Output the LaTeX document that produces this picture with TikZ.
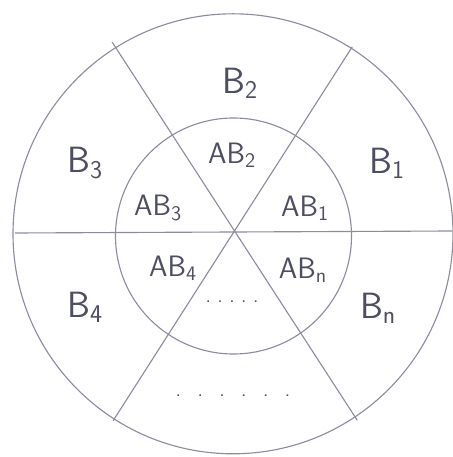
\documentclass[tikz,border=0pt]{standalone}
\usepackage{xcolor}
\usepackage{tikz}
\usetikzlibrary{calc}
\definecolor{pencil}{RGB}{140,140,160}
\definecolor{pencilink}{RGB}{78,78,98}

\begin{document}
\begin{tikzpicture}[
    ring/.style={draw=pencil, line width=0.8pt},
    spoke/.style={draw=pencil, line width=0.8pt},
    outer/.style={text=pencilink, font=\sffamily\fontsize{26}{28}\selectfont},
    inner/.style={text=pencilink, font=\sffamily\fontsize{21}{24}\selectfont},
    dots/.style={text=pencilink, font=\sffamily\bfseries\small, anchor=base}
]
\useasboundingbox (0,0) rectangle (11.325,11.425);

% Centre and spoke ends
\coordinate (c) at (5.825,5.575);
\coordinate (w)  at (0.375,5.6);
\coordinate (e)  at (11.3,5.65);
\coordinate (ne) at ($(c)+(57.5:5.55)$);
\coordinate (sw) at ($(c)+(237.3:5.55)$);
\coordinate (nw) at ($(c)+(122.2:5.67)$);
\coordinate (se) at ($(c)+(303.7:5.6)$);

% Rings
\draw[ring] (5.825,5.58) circle (5.5);
\draw[ring] (5.8375,5.525) circle (2.95);

% Spokes
\draw[spoke] (w) -- (e);
\draw[spoke] (ne) -- (sw);
\draw[spoke] (nw) -- (se);

% Outer sectors
\node[outer] (b2) at (6.0,9.35)   {B\textsubscript{2}};
\node[outer] (b3) at (2.125,7.35) {B\textsubscript{3}};
\node[outer] (b1) at (9.675,7.35) {B\textsubscript{1}};
\node[outer] (b4) at (2.125,3.75) {B\textsubscript{4}};
\node[outer] (bn) at (9.45,3.725) {B\textsubscript{n}};
\node[dots]  (od) at (5.825,1.5)  {.\hspace{0.45cm}.\hspace{0.45cm}.\hspace{0.45cm}.\hspace{0.45cm}.\hspace{0.45cm}.};

% Inner sectors
\node[inner] (ab2) at (5.8,7.55)    {AB\textsubscript{2}};
\node[inner] (ab3) at (3.95,6.225)  {AB\textsubscript{3}};
\node[inner] (ab1) at (7.625,6.225) {AB\textsubscript{1}};
\node[inner] (ab4) at (4.325,4.725) {AB\textsubscript{4}};
\node[inner] (abn) at (7.575,4.675) {AB\textsubscript{n}};
\node[dots]  (id) at (5.8,3.85) {.\hspace{0.2cm}.\hspace{0.2cm}.\hspace{0.2cm}.\hspace{0.2cm}.};

\end{tikzpicture}
\end{document}
